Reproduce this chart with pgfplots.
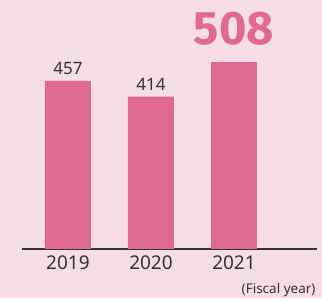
\documentclass[border=0pt]{standalone}
\usepackage{pgfplots}
\pgfplotsset{compat=1.18}
\usepackage{fontspec}
\setmainfont{Noto Sans}
\newfontfamily\numfont{Fira Sans}
\definecolor{bg}{HTML}{F6DCE3}
\definecolor{barc}{HTML}{DF6991}
\definecolor{txt}{HTML}{333333}
\begin{document}
\begin{tikzpicture}[x=1pt,y=1pt]
\fill[bg] (0,0) rectangle (322,298);
\begin{axis}[
  at={(22pt,49pt)}, anchor=south west,
  scale only axis, width=295pt, height=249pt,
  xmin=-0.554, xmax=3.0, ymin=0, ymax=677,
  enlarge x limits=false, enlarge y limits=false,
  axis y line=none, axis x line*=bottom,
  x axis line style={draw=txt, line width=1.2pt, -},
  xtick={0,1,2}, xticklabels={2019,2020,2021},
  major tick length=0pt,
  xticklabel style={font=\fontsize{19}{19}\selectfont, text=txt, yshift=-3pt},
  ybar, bar width=46pt, bar shift=0pt,
  clip=false,
  /pgf/number format/assume math mode=true,
]
\addplot[fill=barc, draw=none,
  nodes near coords,
  every node near coord/.append style={font=\fontsize{17}{17}\selectfont, text=txt, yshift=2.5pt}]
  coordinates {(0,457) (1,414)};
\addplot[fill=barc, draw=none,
  nodes near coords={\pgfmathprintnumber{\pgfplotspointmeta}},
  every node near coord/.append style={font=\numfont\bfseries\fontsize{47}{47}\selectfont, text=barc, yshift=13pt}]
  coordinates {(2,508)};
\end{axis}
\node[anchor=east, text=txt, font=\fontsize{13.5}{13.5}\selectfont] at (319,8) {(Fiscal year)};
\end{tikzpicture}
\end{document}
